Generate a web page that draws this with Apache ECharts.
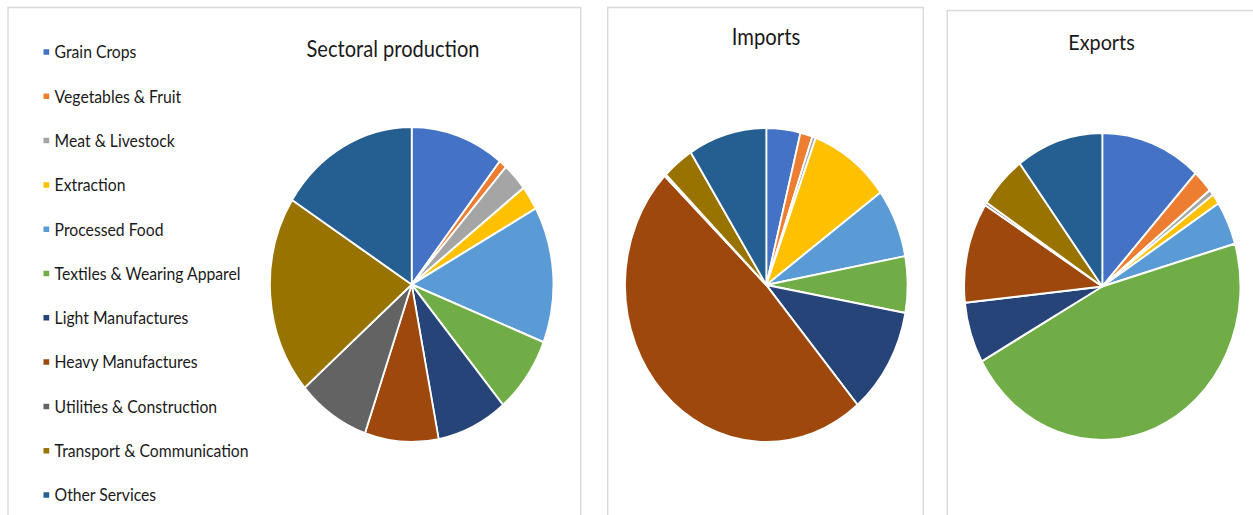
<!DOCTYPE html>
<html>
<head>
<meta charset="utf-8">
<script src="https://cdn.jsdelivr.net/npm/echarts@6/dist/echarts.min.js"></script>
<style>
html,body{margin:0;padding:0;background:#fff;overflow:hidden;width:1253px;height:515px;}
#wrap{width:1393px;height:515px;transform:scaleX(0.9);transform-origin:0 0;}
</style>
</head>
<body>
<div id="wrap"></div>
<script>
// ---- data ----
const categories = ['Grain Crops','Vegetables & Fruit','Meat & Livestock','Extraction','Processed Food','Textiles & Wearing Apparel','Light Manufactures','Heavy Manufactures','Utilities & Construction','Transport & Communication','Other Services'];
const production = [10.7, 0.9, 2.9, 2.5, 14.0, 7.9, 8.1, 8.4, 8.3, 20.4, 16.0];
const imports    = [3.9, 1.4, 0.4, 9.3, 7.1, 5.8, 11.0, 48.5, 0.2, 3.6, 9.0];
const exportsV   = [11.8, 2.4, 0.6, 1.1, 4.6, 46.4, 6.4, 10.6, 0.3, 5.6, 10.2];
const titles = ['Sectoral production', 'Imports', 'Exports'];
const colors = ['#4472C4','#ED7D31','#A5A5A5','#FFC000','#5B9BD5','#70AD47','#264478','#9E480E','#636363','#997300','#255E91'];

const SX = 1/0.9; // horizontal compensation for the squeezed layout
const font = 'Lato, "Open Sans", "Liberation Sans", sans-serif';

function pieSeries(name, values, cx, cy, r) {
  return {
    type: 'pie', name: name,
    center: [cx * SX, cy], radius: r,
    startAngle: 90, clockwise: true,
    label: {show: false}, labelLine: {show: false},
    avoidLabelOverlap: false, silent: true,
    itemStyle: {borderColor: '#fff', borderWidth: 2},
    emphasis: {disabled: true},
    data: categories.map((c, i) => ({name: c, value: values[i]}))
  };
}

function panel(x1, x2, y) {
  return {type: 'rect', silent: true, z: -1,
    shape: {x: x1 * SX, y: y, width: (x2 - x1) * SX, height: 700},
    style: {fill: 'none', stroke: '#d9d9d9', lineWidth: 1.6}};
}
function ttl(text, x, y, size) {
  return {type: 'text', silent: true,
    style: {text: text, x: x * SX, y: y, align: 'center', verticalAlign: 'middle',
      font: size + 'px ' + font, fill: '#1a1a1a'}};
}

const chart = echarts.init(document.getElementById('wrap'), null, {renderer: 'svg'});
chart.setOption({
  animation: false,
  color: colors,
  legend: {
    data: categories, orient: 'vertical',
    left: 41.7 * SX, top: 42, height: 480, padding: 0,
    icon: 'rect', itemWidth: 7.5 * SX, itemHeight: 7.5,
    itemGap: 24.3, selectedMode: false,
    textStyle: {fontFamily: font, fontSize: 17.5, color: '#1a1a1a', lineHeight: 20}
  },
  graphic: [
    panel(8, 580.7, 7.5), panel(607.7, 923.3, 7.5), panel(947.3, 1400, 10.5),
    ttl(titles[0], 393, 48.8, 22.3), ttl(titles[1], 766, 37, 22.5), ttl(titles[2], 1101.5, 41, 22)
  ],
  series: [
    pieSeries('Sectoral production', production, 411.7, 284.5, 157.5),
    pieSeries('Imports', imports, 766.3, 285, 157),
    pieSeries('Exports', exportsV, 1102.3, 286.5, 153.5)
  ]
});
</script>
</body>
</html>
